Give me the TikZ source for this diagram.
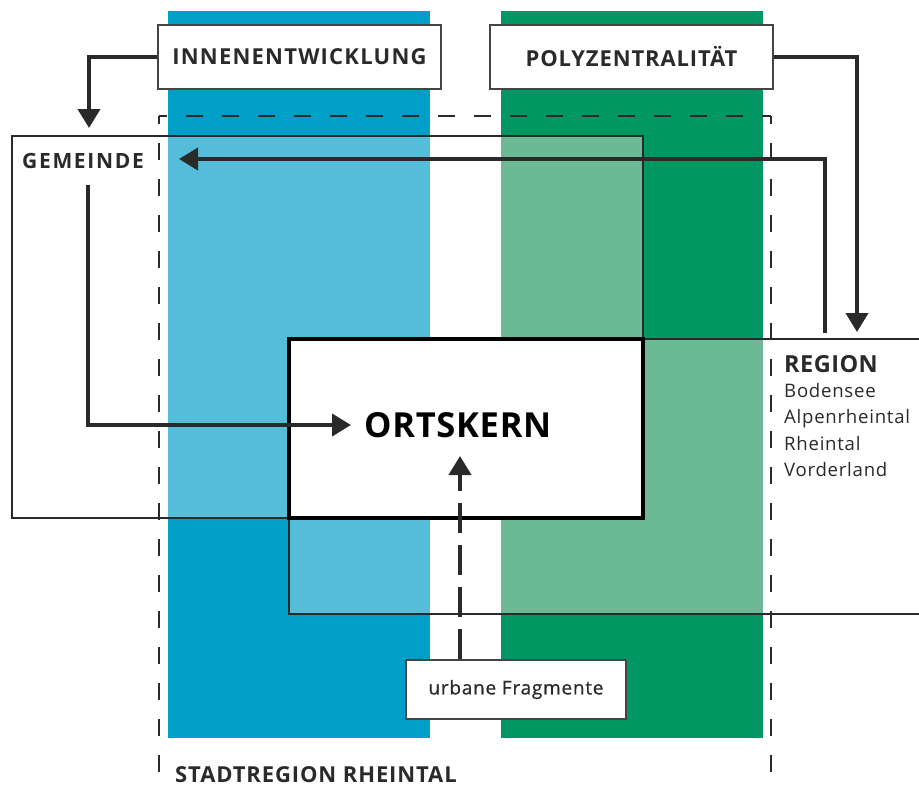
\documentclass[tikz,border=0pt]{standalone}
\usepackage{fontspec}
\setmainfont{Open Sans}
\usetikzlibrary{arrows.meta}
\definecolor{dblue}{HTML}{009FC7}
\definecolor{lblue}{HTML}{55BDDA}
\definecolor{dgreen}{HTML}{009762}
\definecolor{lgreen}{HTML}{6CB996}
\definecolor{ink}{HTML}{2A2A2A}
\definecolor{boxline}{HTML}{454545}
\tikzset{
  labelbox/.style={draw=boxline, line width=2pt, fill=white, inner sep=0pt, text=ink},
  thinline/.style={draw=ink, line width=1.4pt},
  frameline/.style={draw=ink, line width=2pt, dash pattern=on 17pt off 19pt, dash phase=9pt},
  flow/.style={draw=ink, line width=4pt, -{Triangle[width=22pt,length=19pt]}},
  dashedflow/.style={flow, dash pattern=on 30pt off 12pt},
  txt/.style={inner sep=0pt, text=ink, anchor=base west},
  listtxt/.style={txt, font=\fontsize{18.6}{22}\selectfont\addfontfeatures{LetterSpace=4}},
}
\begin{document}
\begin{tikzpicture}[x=1pt,y=-1pt]
\useasboundingbox (0,0) rectangle (919,790);
\fill[white] (0,0) rectangle (919,790);
% columns
\fill[dblue] (168,11) rectangle (430,738);
\fill[dgreen] (501,11) rectangle (763,738);
\fill[lblue] (168,136) rectangle (430,518);
\fill[lblue] (289,518) rectangle (430,614);
\fill[lgreen] (501,136) rectangle (643,518);
\fill[lgreen] (501,339) rectangle (763,614);
\fill[white] (289,339) rectangle (643,518);
% dashed frame (Stadtregion Rheintal)
\coordinate (frameTL) at (159,116);
\coordinate (frameTR) at (771,116);
\draw[frameline] (frameTL) -- (frameTR);
\draw[frameline] (frameTL) -- (159,790);
\draw[frameline] (frameTR) -- (771,790);
% Gemeinde and Region frames
\draw[thinline] (12,136) rectangle (643,518);
\draw[thinline] (919,339) -- (289,339) -- (289,614) -- (919,614);
% Ortskern
\draw[draw=black, line width=4.5pt] (289,339) rectangle (643,518);
% label boxes
\node[labelbox, minimum width=283pt, minimum height=64pt, font=\bfseries\fontsize{22}{26}\selectfont\addfontfeatures{LetterSpace=5.5}] (innen) at (299.5,57) {INNENENTWICKLUNG};
\node[labelbox, minimum width=283pt, minimum height=64pt, font=\bfseries\fontsize{22}{26}\selectfont\addfontfeatures{LetterSpace=4}] (poly) at (631.5,57) {POLYZENTRALITÄT};
\node[labelbox, line width=2.5pt, minimum width=220pt, minimum height=59pt, font=\fontsize{19}{23}\selectfont\addfontfeatures{LetterSpace=4,FakeBold=0.6}] (frag) at (516,689.5) {urbane Fragmente};
% texts
\node[txt, font=\bfseries\fontsize{21}{25}\selectfont\addfontfeatures{LetterSpace=8}] (gem) at (22,168) {GEMEINDE};
\node[txt, text=black, font=\bfseries\fontsize{34.5}{40}\selectfont\addfontfeatures{LetterSpace=2}] (ort) at (364,437) {ORTSKERN};
\node[txt, font=\bfseries\fontsize{23.5}{28}\selectfont\addfontfeatures{LetterSpace=2}] (reg) at (784,372) {REGION};
\node[listtxt] (r1) at (784,397) {Bodensee};
\node[listtxt] (r2) at (784,423.5) {Alpenrheintal};
\node[listtxt] (r3) at (784,450) {Rheintal};
\node[listtxt] (r4) at (784,476) {Vorderland};
\node[txt, font=\bfseries\fontsize{22}{26}\selectfont\addfontfeatures{LetterSpace=4}] (stadt) at (175,782) {STADTREGION RHEINTAL};
% connector ends
\coordinate (innenTip) at (89,128);
\coordinate (polyTip) at (857,332);
\coordinate (regStart) at (825,333);
\coordinate (gemTip) at (179,159);
\coordinate (gemStart) at (88,185);
\coordinate (ortTip) at (351,425);
\coordinate (fragTip) at (460,456);
% connectors
\draw[flow] (innen.west) -| (innenTip);
\draw[flow] (poly.east) -| (polyTip);
\draw[flow] (regStart) |- (gemTip);
\draw[flow] (gemStart) |- (ortTip);
\draw[dashedflow] (frag.north -| fragTip) -- (fragTip);
\end{tikzpicture}
\end{document}
